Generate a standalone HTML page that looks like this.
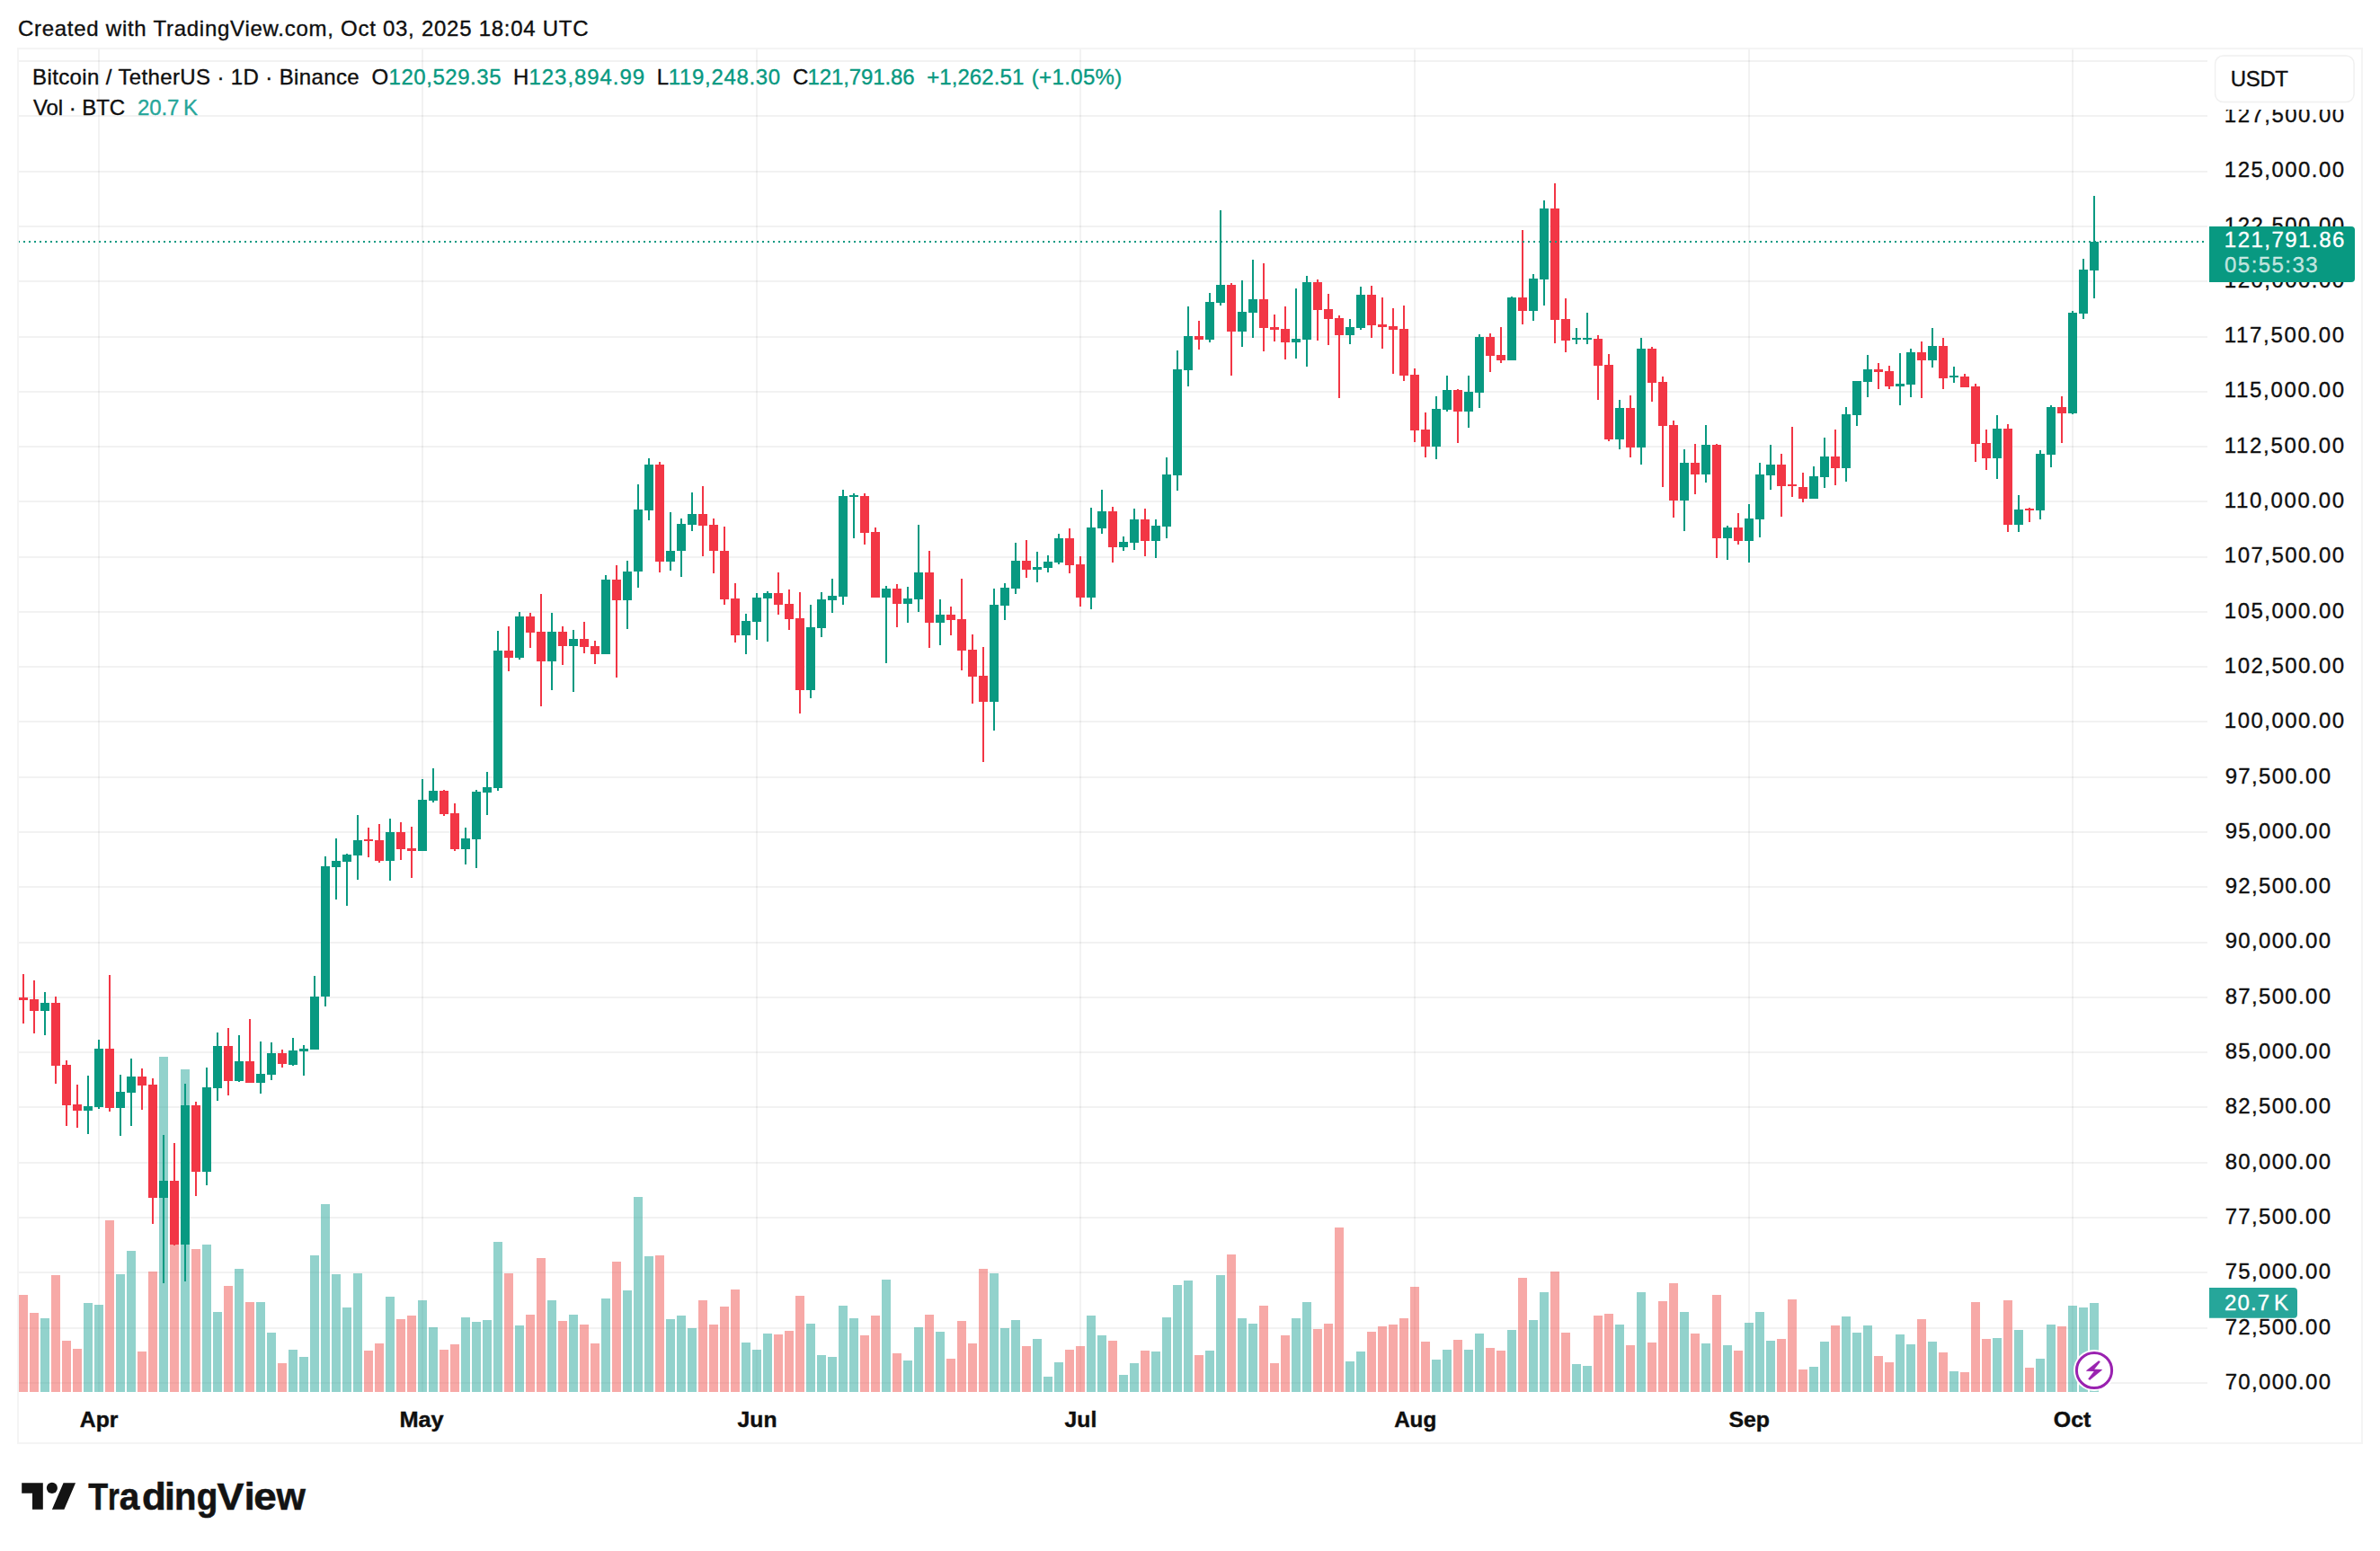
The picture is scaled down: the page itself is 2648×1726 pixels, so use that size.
<!DOCTYPE html>
<html><head><meta charset="utf-8"><title>BTCUSDT chart</title>
<style>html,body{margin:0;padding:0;background:#fff}body{width:2648px;height:1726px;position:relative;overflow:hidden}</style></head>
<body>
<svg width="2648" height="1726" viewBox="0 0 2648 1726" style="position:absolute;left:0;top:0;font-family:'Liberation Sans',sans-serif" shape-rendering="crispEdges">
<rect width="2648" height="1726" fill="#fff"/>
<g fill="rgba(0,0,0,0.052)">
<rect x="20" y="67" width="2436" height="2"/>
<rect x="20" y="128" width="2436" height="2"/>
<rect x="20" y="190" width="2436" height="2"/>
<rect x="20" y="251" width="2436" height="2"/>
<rect x="20" y="312" width="2436" height="2"/>
<rect x="20" y="374" width="2436" height="2"/>
<rect x="20" y="435" width="2436" height="2"/>
<rect x="20" y="496" width="2436" height="2"/>
<rect x="20" y="557" width="2436" height="2"/>
<rect x="20" y="619" width="2436" height="2"/>
<rect x="20" y="680" width="2436" height="2"/>
<rect x="20" y="741" width="2436" height="2"/>
<rect x="20" y="802" width="2436" height="2"/>
<rect x="20" y="864" width="2436" height="2"/>
<rect x="20" y="925" width="2436" height="2"/>
<rect x="20" y="986" width="2436" height="2"/>
<rect x="20" y="1048" width="2436" height="2"/>
<rect x="20" y="1109" width="2436" height="2"/>
<rect x="20" y="1170" width="2436" height="2"/>
<rect x="20" y="1231" width="2436" height="2"/>
<rect x="20" y="1293" width="2436" height="2"/>
<rect x="20" y="1354" width="2436" height="2"/>
<rect x="20" y="1415" width="2436" height="2"/>
<rect x="20" y="1477" width="2436" height="2"/>
<rect x="20" y="1538" width="2436" height="2"/>
<rect x="109" y="54" width="2" height="1495"/>
<rect x="469" y="54" width="2" height="1495"/>
<rect x="841" y="54" width="2" height="1495"/>
<rect x="1201" y="54" width="2" height="1495"/>
<rect x="1573" y="54" width="2" height="1495"/>
<rect x="1945" y="54" width="2" height="1495"/>
<rect x="2305" y="54" width="2" height="1495"/>
</g>
<g>
<rect x="21" y="1441" width="10" height="108" fill="rgba(239,83,80,0.5)"/>
<rect x="33" y="1461" width="10" height="88" fill="rgba(239,83,80,0.5)"/>
<rect x="45" y="1467" width="10" height="82" fill="rgba(38,166,154,0.5)"/>
<rect x="57" y="1419" width="10" height="130" fill="rgba(239,83,80,0.5)"/>
<rect x="69" y="1492" width="10" height="57" fill="rgba(239,83,80,0.5)"/>
<rect x="81" y="1501" width="10" height="48" fill="rgba(239,83,80,0.5)"/>
<rect x="93" y="1450" width="10" height="99" fill="rgba(38,166,154,0.5)"/>
<rect x="105" y="1452" width="10" height="97" fill="rgba(38,166,154,0.5)"/>
<rect x="117" y="1358" width="10" height="191" fill="rgba(239,83,80,0.5)"/>
<rect x="129" y="1418" width="10" height="131" fill="rgba(38,166,154,0.5)"/>
<rect x="141" y="1392" width="10" height="157" fill="rgba(38,166,154,0.5)"/>
<rect x="153" y="1504" width="10" height="45" fill="rgba(239,83,80,0.5)"/>
<rect x="165" y="1415" width="10" height="134" fill="rgba(239,83,80,0.5)"/>
<rect x="177" y="1176" width="10" height="373" fill="rgba(38,166,154,0.5)"/>
<rect x="189" y="1380" width="10" height="169" fill="rgba(239,83,80,0.5)"/>
<rect x="201" y="1190" width="10" height="359" fill="rgba(38,166,154,0.5)"/>
<rect x="213" y="1390" width="10" height="159" fill="rgba(239,83,80,0.5)"/>
<rect x="225" y="1385" width="10" height="164" fill="rgba(38,166,154,0.5)"/>
<rect x="237" y="1460" width="10" height="89" fill="rgba(38,166,154,0.5)"/>
<rect x="249" y="1431" width="10" height="118" fill="rgba(239,83,80,0.5)"/>
<rect x="261" y="1412" width="10" height="137" fill="rgba(38,166,154,0.5)"/>
<rect x="273" y="1449" width="10" height="100" fill="rgba(239,83,80,0.5)"/>
<rect x="285" y="1449" width="10" height="100" fill="rgba(38,166,154,0.5)"/>
<rect x="297" y="1483" width="10" height="66" fill="rgba(38,166,154,0.5)"/>
<rect x="309" y="1517" width="10" height="32" fill="rgba(239,83,80,0.5)"/>
<rect x="321" y="1502" width="10" height="47" fill="rgba(38,166,154,0.5)"/>
<rect x="333" y="1510" width="10" height="39" fill="rgba(38,166,154,0.5)"/>
<rect x="345" y="1397" width="10" height="152" fill="rgba(38,166,154,0.5)"/>
<rect x="357" y="1340" width="10" height="209" fill="rgba(38,166,154,0.5)"/>
<rect x="369" y="1418" width="10" height="131" fill="rgba(38,166,154,0.5)"/>
<rect x="381" y="1455" width="10" height="94" fill="rgba(38,166,154,0.5)"/>
<rect x="393" y="1417" width="10" height="132" fill="rgba(38,166,154,0.5)"/>
<rect x="405" y="1503" width="10" height="46" fill="rgba(239,83,80,0.5)"/>
<rect x="417" y="1495" width="10" height="54" fill="rgba(239,83,80,0.5)"/>
<rect x="429" y="1443" width="10" height="106" fill="rgba(38,166,154,0.5)"/>
<rect x="441" y="1468" width="10" height="81" fill="rgba(239,83,80,0.5)"/>
<rect x="453" y="1464" width="10" height="85" fill="rgba(239,83,80,0.5)"/>
<rect x="465" y="1447" width="10" height="102" fill="rgba(38,166,154,0.5)"/>
<rect x="477" y="1477" width="10" height="72" fill="rgba(38,166,154,0.5)"/>
<rect x="489" y="1502" width="10" height="47" fill="rgba(239,83,80,0.5)"/>
<rect x="501" y="1496" width="10" height="53" fill="rgba(239,83,80,0.5)"/>
<rect x="513" y="1466" width="10" height="83" fill="rgba(38,166,154,0.5)"/>
<rect x="525" y="1471" width="10" height="78" fill="rgba(38,166,154,0.5)"/>
<rect x="537" y="1469" width="10" height="80" fill="rgba(38,166,154,0.5)"/>
<rect x="549" y="1382" width="10" height="167" fill="rgba(38,166,154,0.5)"/>
<rect x="561" y="1417" width="10" height="132" fill="rgba(239,83,80,0.5)"/>
<rect x="573" y="1475" width="10" height="74" fill="rgba(38,166,154,0.5)"/>
<rect x="585" y="1463" width="10" height="86" fill="rgba(239,83,80,0.5)"/>
<rect x="597" y="1400" width="10" height="149" fill="rgba(239,83,80,0.5)"/>
<rect x="609" y="1447" width="10" height="102" fill="rgba(38,166,154,0.5)"/>
<rect x="621" y="1470" width="10" height="79" fill="rgba(239,83,80,0.5)"/>
<rect x="633" y="1463" width="10" height="86" fill="rgba(38,166,154,0.5)"/>
<rect x="645" y="1474" width="10" height="75" fill="rgba(239,83,80,0.5)"/>
<rect x="657" y="1495" width="10" height="54" fill="rgba(239,83,80,0.5)"/>
<rect x="669" y="1445" width="10" height="104" fill="rgba(38,166,154,0.5)"/>
<rect x="681" y="1404" width="10" height="145" fill="rgba(239,83,80,0.5)"/>
<rect x="693" y="1436" width="10" height="113" fill="rgba(38,166,154,0.5)"/>
<rect x="705" y="1332" width="10" height="217" fill="rgba(38,166,154,0.5)"/>
<rect x="717" y="1398" width="10" height="151" fill="rgba(38,166,154,0.5)"/>
<rect x="729" y="1397" width="10" height="152" fill="rgba(239,83,80,0.5)"/>
<rect x="741" y="1468" width="10" height="81" fill="rgba(38,166,154,0.5)"/>
<rect x="753" y="1464" width="10" height="85" fill="rgba(38,166,154,0.5)"/>
<rect x="765" y="1478" width="10" height="71" fill="rgba(38,166,154,0.5)"/>
<rect x="777" y="1447" width="10" height="102" fill="rgba(239,83,80,0.5)"/>
<rect x="789" y="1474" width="10" height="75" fill="rgba(239,83,80,0.5)"/>
<rect x="801" y="1454" width="10" height="95" fill="rgba(239,83,80,0.5)"/>
<rect x="813" y="1435" width="10" height="114" fill="rgba(239,83,80,0.5)"/>
<rect x="825" y="1494" width="10" height="55" fill="rgba(38,166,154,0.5)"/>
<rect x="837" y="1502" width="10" height="47" fill="rgba(38,166,154,0.5)"/>
<rect x="849" y="1484" width="10" height="65" fill="rgba(38,166,154,0.5)"/>
<rect x="861" y="1485" width="10" height="64" fill="rgba(239,83,80,0.5)"/>
<rect x="873" y="1481" width="10" height="68" fill="rgba(239,83,80,0.5)"/>
<rect x="885" y="1442" width="10" height="107" fill="rgba(239,83,80,0.5)"/>
<rect x="897" y="1473" width="10" height="76" fill="rgba(38,166,154,0.5)"/>
<rect x="909" y="1508" width="10" height="41" fill="rgba(38,166,154,0.5)"/>
<rect x="921" y="1510" width="10" height="39" fill="rgba(38,166,154,0.5)"/>
<rect x="933" y="1453" width="10" height="96" fill="rgba(38,166,154,0.5)"/>
<rect x="945" y="1467" width="10" height="82" fill="rgba(38,166,154,0.5)"/>
<rect x="957" y="1486" width="10" height="63" fill="rgba(239,83,80,0.5)"/>
<rect x="969" y="1464" width="10" height="85" fill="rgba(239,83,80,0.5)"/>
<rect x="981" y="1424" width="10" height="125" fill="rgba(38,166,154,0.5)"/>
<rect x="993" y="1506" width="10" height="43" fill="rgba(239,83,80,0.5)"/>
<rect x="1005" y="1514" width="10" height="35" fill="rgba(38,166,154,0.5)"/>
<rect x="1017" y="1477" width="10" height="72" fill="rgba(38,166,154,0.5)"/>
<rect x="1029" y="1463" width="10" height="86" fill="rgba(239,83,80,0.5)"/>
<rect x="1041" y="1482" width="10" height="67" fill="rgba(38,166,154,0.5)"/>
<rect x="1053" y="1512" width="10" height="37" fill="rgba(239,83,80,0.5)"/>
<rect x="1065" y="1470" width="10" height="79" fill="rgba(239,83,80,0.5)"/>
<rect x="1077" y="1495" width="10" height="54" fill="rgba(239,83,80,0.5)"/>
<rect x="1089" y="1412" width="10" height="137" fill="rgba(239,83,80,0.5)"/>
<rect x="1101" y="1417" width="10" height="132" fill="rgba(38,166,154,0.5)"/>
<rect x="1113" y="1478" width="10" height="71" fill="rgba(38,166,154,0.5)"/>
<rect x="1125" y="1469" width="10" height="80" fill="rgba(38,166,154,0.5)"/>
<rect x="1137" y="1498" width="10" height="51" fill="rgba(239,83,80,0.5)"/>
<rect x="1149" y="1490" width="10" height="59" fill="rgba(38,166,154,0.5)"/>
<rect x="1161" y="1532" width="10" height="17" fill="rgba(38,166,154,0.5)"/>
<rect x="1173" y="1516" width="10" height="33" fill="rgba(38,166,154,0.5)"/>
<rect x="1185" y="1502" width="10" height="47" fill="rgba(239,83,80,0.5)"/>
<rect x="1197" y="1498" width="10" height="51" fill="rgba(239,83,80,0.5)"/>
<rect x="1209" y="1464" width="10" height="85" fill="rgba(38,166,154,0.5)"/>
<rect x="1221" y="1486" width="10" height="63" fill="rgba(38,166,154,0.5)"/>
<rect x="1233" y="1492" width="10" height="57" fill="rgba(239,83,80,0.5)"/>
<rect x="1245" y="1530" width="10" height="19" fill="rgba(38,166,154,0.5)"/>
<rect x="1257" y="1517" width="10" height="32" fill="rgba(38,166,154,0.5)"/>
<rect x="1269" y="1503" width="10" height="46" fill="rgba(239,83,80,0.5)"/>
<rect x="1281" y="1504" width="10" height="45" fill="rgba(38,166,154,0.5)"/>
<rect x="1293" y="1466" width="10" height="83" fill="rgba(38,166,154,0.5)"/>
<rect x="1305" y="1430" width="10" height="119" fill="rgba(38,166,154,0.5)"/>
<rect x="1317" y="1425" width="10" height="124" fill="rgba(38,166,154,0.5)"/>
<rect x="1329" y="1508" width="10" height="41" fill="rgba(239,83,80,0.5)"/>
<rect x="1341" y="1503" width="10" height="46" fill="rgba(38,166,154,0.5)"/>
<rect x="1353" y="1419" width="10" height="130" fill="rgba(38,166,154,0.5)"/>
<rect x="1365" y="1396" width="10" height="153" fill="rgba(239,83,80,0.5)"/>
<rect x="1377" y="1467" width="10" height="82" fill="rgba(38,166,154,0.5)"/>
<rect x="1389" y="1473" width="10" height="76" fill="rgba(38,166,154,0.5)"/>
<rect x="1401" y="1453" width="10" height="96" fill="rgba(239,83,80,0.5)"/>
<rect x="1413" y="1517" width="10" height="32" fill="rgba(239,83,80,0.5)"/>
<rect x="1425" y="1486" width="10" height="63" fill="rgba(239,83,80,0.5)"/>
<rect x="1437" y="1467" width="10" height="82" fill="rgba(38,166,154,0.5)"/>
<rect x="1449" y="1449" width="10" height="100" fill="rgba(38,166,154,0.5)"/>
<rect x="1461" y="1479" width="10" height="70" fill="rgba(239,83,80,0.5)"/>
<rect x="1473" y="1473" width="10" height="76" fill="rgba(239,83,80,0.5)"/>
<rect x="1485" y="1366" width="10" height="183" fill="rgba(239,83,80,0.5)"/>
<rect x="1497" y="1515" width="10" height="34" fill="rgba(38,166,154,0.5)"/>
<rect x="1509" y="1504" width="10" height="45" fill="rgba(38,166,154,0.5)"/>
<rect x="1521" y="1482" width="10" height="67" fill="rgba(239,83,80,0.5)"/>
<rect x="1533" y="1476" width="10" height="73" fill="rgba(239,83,80,0.5)"/>
<rect x="1545" y="1474" width="10" height="75" fill="rgba(239,83,80,0.5)"/>
<rect x="1557" y="1467" width="10" height="82" fill="rgba(239,83,80,0.5)"/>
<rect x="1569" y="1432" width="10" height="117" fill="rgba(239,83,80,0.5)"/>
<rect x="1581" y="1493" width="10" height="56" fill="rgba(239,83,80,0.5)"/>
<rect x="1593" y="1513" width="10" height="36" fill="rgba(38,166,154,0.5)"/>
<rect x="1605" y="1502" width="10" height="47" fill="rgba(38,166,154,0.5)"/>
<rect x="1617" y="1491" width="10" height="58" fill="rgba(239,83,80,0.5)"/>
<rect x="1629" y="1502" width="10" height="47" fill="rgba(38,166,154,0.5)"/>
<rect x="1641" y="1484" width="10" height="65" fill="rgba(38,166,154,0.5)"/>
<rect x="1653" y="1500" width="10" height="49" fill="rgba(239,83,80,0.5)"/>
<rect x="1665" y="1503" width="10" height="46" fill="rgba(239,83,80,0.5)"/>
<rect x="1677" y="1480" width="10" height="69" fill="rgba(38,166,154,0.5)"/>
<rect x="1689" y="1422" width="10" height="127" fill="rgba(239,83,80,0.5)"/>
<rect x="1701" y="1469" width="10" height="80" fill="rgba(38,166,154,0.5)"/>
<rect x="1713" y="1438" width="10" height="111" fill="rgba(38,166,154,0.5)"/>
<rect x="1725" y="1415" width="10" height="134" fill="rgba(239,83,80,0.5)"/>
<rect x="1737" y="1483" width="10" height="66" fill="rgba(239,83,80,0.5)"/>
<rect x="1749" y="1518" width="10" height="31" fill="rgba(38,166,154,0.5)"/>
<rect x="1761" y="1520" width="10" height="29" fill="rgba(38,166,154,0.5)"/>
<rect x="1773" y="1464" width="10" height="85" fill="rgba(239,83,80,0.5)"/>
<rect x="1785" y="1462" width="10" height="87" fill="rgba(239,83,80,0.5)"/>
<rect x="1797" y="1474" width="10" height="75" fill="rgba(38,166,154,0.5)"/>
<rect x="1809" y="1497" width="10" height="52" fill="rgba(239,83,80,0.5)"/>
<rect x="1821" y="1438" width="10" height="111" fill="rgba(38,166,154,0.5)"/>
<rect x="1833" y="1494" width="10" height="55" fill="rgba(239,83,80,0.5)"/>
<rect x="1845" y="1448" width="10" height="101" fill="rgba(239,83,80,0.5)"/>
<rect x="1857" y="1428" width="10" height="121" fill="rgba(239,83,80,0.5)"/>
<rect x="1869" y="1460" width="10" height="89" fill="rgba(38,166,154,0.5)"/>
<rect x="1881" y="1484" width="10" height="65" fill="rgba(239,83,80,0.5)"/>
<rect x="1893" y="1495" width="10" height="54" fill="rgba(38,166,154,0.5)"/>
<rect x="1905" y="1441" width="10" height="108" fill="rgba(239,83,80,0.5)"/>
<rect x="1917" y="1497" width="10" height="52" fill="rgba(38,166,154,0.5)"/>
<rect x="1929" y="1503" width="10" height="46" fill="rgba(239,83,80,0.5)"/>
<rect x="1941" y="1472" width="10" height="77" fill="rgba(38,166,154,0.5)"/>
<rect x="1953" y="1460" width="10" height="89" fill="rgba(38,166,154,0.5)"/>
<rect x="1965" y="1492" width="10" height="57" fill="rgba(38,166,154,0.5)"/>
<rect x="1977" y="1490" width="10" height="59" fill="rgba(239,83,80,0.5)"/>
<rect x="1989" y="1446" width="10" height="103" fill="rgba(239,83,80,0.5)"/>
<rect x="2001" y="1524" width="10" height="25" fill="rgba(239,83,80,0.5)"/>
<rect x="2013" y="1521" width="10" height="28" fill="rgba(38,166,154,0.5)"/>
<rect x="2025" y="1493" width="10" height="56" fill="rgba(38,166,154,0.5)"/>
<rect x="2037" y="1475" width="10" height="74" fill="rgba(239,83,80,0.5)"/>
<rect x="2049" y="1465" width="10" height="84" fill="rgba(38,166,154,0.5)"/>
<rect x="2061" y="1483" width="10" height="66" fill="rgba(38,166,154,0.5)"/>
<rect x="2073" y="1475" width="10" height="74" fill="rgba(38,166,154,0.5)"/>
<rect x="2085" y="1509" width="10" height="40" fill="rgba(239,83,80,0.5)"/>
<rect x="2097" y="1516" width="10" height="33" fill="rgba(239,83,80,0.5)"/>
<rect x="2109" y="1485" width="10" height="64" fill="rgba(38,166,154,0.5)"/>
<rect x="2121" y="1496" width="10" height="53" fill="rgba(38,166,154,0.5)"/>
<rect x="2133" y="1468" width="10" height="81" fill="rgba(239,83,80,0.5)"/>
<rect x="2145" y="1493" width="10" height="56" fill="rgba(38,166,154,0.5)"/>
<rect x="2157" y="1505" width="10" height="44" fill="rgba(239,83,80,0.5)"/>
<rect x="2169" y="1526" width="10" height="23" fill="rgba(38,166,154,0.5)"/>
<rect x="2181" y="1527" width="10" height="22" fill="rgba(239,83,80,0.5)"/>
<rect x="2193" y="1449" width="10" height="100" fill="rgba(239,83,80,0.5)"/>
<rect x="2205" y="1490" width="10" height="59" fill="rgba(239,83,80,0.5)"/>
<rect x="2217" y="1489" width="10" height="60" fill="rgba(38,166,154,0.5)"/>
<rect x="2229" y="1447" width="10" height="102" fill="rgba(239,83,80,0.5)"/>
<rect x="2241" y="1480" width="10" height="69" fill="rgba(38,166,154,0.5)"/>
<rect x="2253" y="1522" width="10" height="27" fill="rgba(239,83,80,0.5)"/>
<rect x="2265" y="1512" width="10" height="37" fill="rgba(38,166,154,0.5)"/>
<rect x="2277" y="1474" width="10" height="75" fill="rgba(38,166,154,0.5)"/>
<rect x="2289" y="1476" width="10" height="73" fill="rgba(239,83,80,0.5)"/>
<rect x="2301" y="1453" width="10" height="96" fill="rgba(38,166,154,0.5)"/>
<rect x="2313" y="1455" width="10" height="94" fill="rgba(38,166,154,0.5)"/>
<rect x="2325" y="1450" width="10" height="99" fill="rgba(38,166,154,0.5)"/>
</g>
<g fill="#089981">
<rect x="49" y="1104" width="2" height="48"/>
<rect x="45" y="1116" width="10" height="9"/>
<rect x="97" y="1197" width="2" height="65"/>
<rect x="93" y="1231" width="10" height="5"/>
<rect x="109" y="1157" width="2" height="77"/>
<rect x="105" y="1167" width="10" height="65"/>
<rect x="133" y="1196" width="2" height="68"/>
<rect x="129" y="1215" width="10" height="18"/>
<rect x="145" y="1178" width="2" height="75"/>
<rect x="141" y="1198" width="10" height="18"/>
<rect x="181" y="1263" width="2" height="165"/>
<rect x="177" y="1314" width="10" height="19"/>
<rect x="205" y="1206" width="2" height="220"/>
<rect x="201" y="1230" width="10" height="155"/>
<rect x="229" y="1188" width="2" height="131"/>
<rect x="225" y="1210" width="10" height="94"/>
<rect x="241" y="1149" width="2" height="76"/>
<rect x="237" y="1164" width="10" height="47"/>
<rect x="265" y="1152" width="2" height="52"/>
<rect x="261" y="1181" width="10" height="22"/>
<rect x="289" y="1159" width="2" height="58"/>
<rect x="285" y="1195" width="10" height="10"/>
<rect x="301" y="1160" width="2" height="42"/>
<rect x="297" y="1172" width="10" height="24"/>
<rect x="325" y="1155" width="2" height="31"/>
<rect x="321" y="1169" width="10" height="16"/>
<rect x="337" y="1163" width="2" height="34"/>
<rect x="333" y="1167" width="10" height="3"/>
<rect x="349" y="1086" width="2" height="82"/>
<rect x="345" y="1109" width="10" height="59"/>
<rect x="361" y="953" width="2" height="167"/>
<rect x="357" y="964" width="10" height="145"/>
<rect x="373" y="933" width="2" height="68"/>
<rect x="369" y="958" width="10" height="7"/>
<rect x="385" y="950" width="2" height="58"/>
<rect x="381" y="951" width="10" height="8"/>
<rect x="397" y="907" width="2" height="72"/>
<rect x="393" y="935" width="10" height="17"/>
<rect x="433" y="911" width="2" height="69"/>
<rect x="429" y="926" width="10" height="32"/>
<rect x="469" y="867" width="2" height="80"/>
<rect x="465" y="890" width="10" height="57"/>
<rect x="481" y="855" width="2" height="38"/>
<rect x="477" y="880" width="10" height="11"/>
<rect x="517" y="921" width="2" height="41"/>
<rect x="513" y="933" width="10" height="12"/>
<rect x="529" y="879" width="2" height="87"/>
<rect x="525" y="881" width="10" height="53"/>
<rect x="541" y="859" width="2" height="48"/>
<rect x="537" y="876" width="10" height="6"/>
<rect x="553" y="702" width="2" height="178"/>
<rect x="549" y="724" width="10" height="153"/>
<rect x="577" y="681" width="2" height="53"/>
<rect x="573" y="686" width="10" height="46"/>
<rect x="613" y="682" width="2" height="86"/>
<rect x="609" y="703" width="10" height="33"/>
<rect x="637" y="701" width="2" height="69"/>
<rect x="633" y="711" width="10" height="8"/>
<rect x="673" y="640" width="2" height="88"/>
<rect x="669" y="645" width="10" height="83"/>
<rect x="697" y="624" width="2" height="76"/>
<rect x="693" y="636" width="10" height="32"/>
<rect x="709" y="539" width="2" height="115"/>
<rect x="705" y="567" width="10" height="69"/>
<rect x="721" y="510" width="2" height="69"/>
<rect x="717" y="517" width="10" height="51"/>
<rect x="745" y="570" width="2" height="65"/>
<rect x="741" y="613" width="10" height="12"/>
<rect x="757" y="577" width="2" height="65"/>
<rect x="753" y="583" width="10" height="30"/>
<rect x="769" y="548" width="2" height="43"/>
<rect x="765" y="572" width="10" height="12"/>
<rect x="829" y="683" width="2" height="45"/>
<rect x="825" y="691" width="10" height="16"/>
<rect x="841" y="660" width="2" height="52"/>
<rect x="837" y="665" width="10" height="27"/>
<rect x="853" y="658" width="2" height="56"/>
<rect x="849" y="660" width="10" height="6"/>
<rect x="901" y="673" width="2" height="104"/>
<rect x="897" y="698" width="10" height="70"/>
<rect x="913" y="659" width="2" height="50"/>
<rect x="909" y="667" width="10" height="32"/>
<rect x="925" y="644" width="2" height="38"/>
<rect x="921" y="663" width="10" height="5"/>
<rect x="937" y="545" width="2" height="128"/>
<rect x="933" y="552" width="10" height="112"/>
<rect x="949" y="549" width="2" height="50"/>
<rect x="945" y="551" width="10" height="2"/>
<rect x="985" y="652" width="2" height="86"/>
<rect x="981" y="655" width="10" height="10"/>
<rect x="1009" y="653" width="2" height="40"/>
<rect x="1005" y="666" width="10" height="6"/>
<rect x="1021" y="584" width="2" height="97"/>
<rect x="1017" y="637" width="10" height="30"/>
<rect x="1045" y="667" width="2" height="51"/>
<rect x="1041" y="684" width="10" height="9"/>
<rect x="1105" y="655" width="2" height="158"/>
<rect x="1101" y="673" width="10" height="108"/>
<rect x="1117" y="649" width="2" height="41"/>
<rect x="1113" y="654" width="10" height="20"/>
<rect x="1129" y="604" width="2" height="57"/>
<rect x="1125" y="624" width="10" height="31"/>
<rect x="1153" y="614" width="2" height="34"/>
<rect x="1149" y="631" width="10" height="3"/>
<rect x="1165" y="618" width="2" height="19"/>
<rect x="1161" y="625" width="10" height="7"/>
<rect x="1177" y="594" width="2" height="34"/>
<rect x="1173" y="599" width="10" height="27"/>
<rect x="1213" y="565" width="2" height="113"/>
<rect x="1209" y="587" width="10" height="78"/>
<rect x="1225" y="545" width="2" height="49"/>
<rect x="1221" y="569" width="10" height="19"/>
<rect x="1249" y="597" width="2" height="16"/>
<rect x="1245" y="603" width="10" height="6"/>
<rect x="1261" y="566" width="2" height="46"/>
<rect x="1257" y="578" width="10" height="26"/>
<rect x="1285" y="578" width="2" height="43"/>
<rect x="1281" y="585" width="10" height="17"/>
<rect x="1297" y="509" width="2" height="90"/>
<rect x="1293" y="528" width="10" height="58"/>
<rect x="1309" y="390" width="2" height="156"/>
<rect x="1305" y="411" width="10" height="118"/>
<rect x="1321" y="341" width="2" height="89"/>
<rect x="1317" y="374" width="10" height="38"/>
<rect x="1345" y="326" width="2" height="55"/>
<rect x="1341" y="336" width="10" height="42"/>
<rect x="1357" y="234" width="2" height="106"/>
<rect x="1353" y="317" width="10" height="20"/>
<rect x="1381" y="312" width="2" height="74"/>
<rect x="1377" y="347" width="10" height="22"/>
<rect x="1393" y="289" width="2" height="87"/>
<rect x="1389" y="333" width="10" height="15"/>
<rect x="1441" y="321" width="2" height="78"/>
<rect x="1437" y="377" width="10" height="4"/>
<rect x="1453" y="307" width="2" height="101"/>
<rect x="1449" y="314" width="10" height="64"/>
<rect x="1501" y="355" width="2" height="28"/>
<rect x="1497" y="364" width="10" height="9"/>
<rect x="1513" y="319" width="2" height="48"/>
<rect x="1509" y="328" width="10" height="37"/>
<rect x="1597" y="441" width="2" height="70"/>
<rect x="1593" y="455" width="10" height="42"/>
<rect x="1609" y="418" width="2" height="40"/>
<rect x="1605" y="434" width="10" height="22"/>
<rect x="1633" y="418" width="2" height="58"/>
<rect x="1629" y="436" width="10" height="22"/>
<rect x="1645" y="372" width="2" height="82"/>
<rect x="1641" y="375" width="10" height="62"/>
<rect x="1681" y="330" width="2" height="71"/>
<rect x="1677" y="331" width="10" height="70"/>
<rect x="1705" y="305" width="2" height="52"/>
<rect x="1701" y="310" width="10" height="36"/>
<rect x="1717" y="223" width="2" height="117"/>
<rect x="1713" y="232" width="10" height="79"/>
<rect x="1753" y="365" width="2" height="18"/>
<rect x="1749" y="376" width="10" height="2"/>
<rect x="1765" y="348" width="2" height="35"/>
<rect x="1761" y="376" width="10" height="2"/>
<rect x="1801" y="445" width="2" height="55"/>
<rect x="1797" y="454" width="10" height="35"/>
<rect x="1825" y="376" width="2" height="141"/>
<rect x="1821" y="388" width="10" height="110"/>
<rect x="1873" y="500" width="2" height="91"/>
<rect x="1869" y="515" width="10" height="42"/>
<rect x="1897" y="473" width="2" height="64"/>
<rect x="1893" y="495" width="10" height="33"/>
<rect x="1921" y="585" width="2" height="38"/>
<rect x="1917" y="587" width="10" height="12"/>
<rect x="1945" y="561" width="2" height="65"/>
<rect x="1941" y="577" width="10" height="25"/>
<rect x="1957" y="515" width="2" height="83"/>
<rect x="1953" y="528" width="10" height="50"/>
<rect x="1969" y="495" width="2" height="50"/>
<rect x="1965" y="517" width="10" height="12"/>
<rect x="2017" y="519" width="2" height="36"/>
<rect x="2013" y="530" width="10" height="25"/>
<rect x="2029" y="487" width="2" height="56"/>
<rect x="2025" y="508" width="10" height="23"/>
<rect x="2053" y="453" width="2" height="83"/>
<rect x="2049" y="461" width="10" height="60"/>
<rect x="2065" y="424" width="2" height="50"/>
<rect x="2061" y="424" width="10" height="38"/>
<rect x="2077" y="395" width="2" height="47"/>
<rect x="2073" y="411" width="10" height="14"/>
<rect x="2113" y="393" width="2" height="58"/>
<rect x="2109" y="427" width="10" height="3"/>
<rect x="2125" y="388" width="2" height="54"/>
<rect x="2121" y="392" width="10" height="36"/>
<rect x="2149" y="365" width="2" height="44"/>
<rect x="2145" y="385" width="10" height="16"/>
<rect x="2173" y="408" width="2" height="18"/>
<rect x="2169" y="418" width="10" height="2"/>
<rect x="2221" y="462" width="2" height="71"/>
<rect x="2217" y="477" width="10" height="33"/>
<rect x="2245" y="551" width="2" height="41"/>
<rect x="2241" y="567" width="10" height="17"/>
<rect x="2269" y="501" width="2" height="77"/>
<rect x="2265" y="505" width="10" height="63"/>
<rect x="2281" y="451" width="2" height="69"/>
<rect x="2277" y="453" width="10" height="53"/>
<rect x="2305" y="346" width="2" height="115"/>
<rect x="2301" y="348" width="10" height="112"/>
<rect x="2317" y="288" width="2" height="67"/>
<rect x="2313" y="300" width="10" height="49"/>
<rect x="2329" y="218" width="2" height="114"/>
<rect x="2325" y="269" width="10" height="32"/>
</g>
<g fill="#f23645">
<rect x="25" y="1084" width="2" height="55"/>
<rect x="21" y="1110" width="10" height="3"/>
<rect x="37" y="1091" width="2" height="59"/>
<rect x="33" y="1112" width="10" height="13"/>
<rect x="61" y="1109" width="2" height="97"/>
<rect x="57" y="1116" width="10" height="70"/>
<rect x="73" y="1180" width="2" height="73"/>
<rect x="69" y="1185" width="10" height="45"/>
<rect x="85" y="1207" width="2" height="48"/>
<rect x="81" y="1229" width="10" height="7"/>
<rect x="121" y="1085" width="2" height="152"/>
<rect x="117" y="1167" width="10" height="66"/>
<rect x="157" y="1189" width="2" height="46"/>
<rect x="153" y="1198" width="10" height="10"/>
<rect x="169" y="1200" width="2" height="162"/>
<rect x="165" y="1207" width="10" height="126"/>
<rect x="193" y="1272" width="2" height="114"/>
<rect x="189" y="1314" width="10" height="71"/>
<rect x="217" y="1226" width="2" height="105"/>
<rect x="213" y="1230" width="10" height="74"/>
<rect x="253" y="1144" width="2" height="75"/>
<rect x="249" y="1164" width="10" height="39"/>
<rect x="277" y="1134" width="2" height="71"/>
<rect x="273" y="1181" width="10" height="24"/>
<rect x="313" y="1168" width="2" height="20"/>
<rect x="309" y="1172" width="10" height="12"/>
<rect x="409" y="921" width="2" height="33"/>
<rect x="405" y="934" width="10" height="2"/>
<rect x="421" y="917" width="2" height="43"/>
<rect x="417" y="935" width="10" height="23"/>
<rect x="445" y="915" width="2" height="42"/>
<rect x="441" y="926" width="10" height="19"/>
<rect x="457" y="920" width="2" height="57"/>
<rect x="453" y="944" width="10" height="3"/>
<rect x="493" y="879" width="2" height="29"/>
<rect x="489" y="880" width="10" height="26"/>
<rect x="505" y="894" width="2" height="53"/>
<rect x="501" y="905" width="10" height="40"/>
<rect x="565" y="697" width="2" height="50"/>
<rect x="561" y="724" width="10" height="8"/>
<rect x="589" y="682" width="2" height="39"/>
<rect x="585" y="686" width="10" height="18"/>
<rect x="601" y="661" width="2" height="125"/>
<rect x="597" y="703" width="10" height="33"/>
<rect x="625" y="697" width="2" height="43"/>
<rect x="621" y="703" width="10" height="16"/>
<rect x="649" y="692" width="2" height="35"/>
<rect x="645" y="711" width="10" height="9"/>
<rect x="661" y="713" width="2" height="26"/>
<rect x="657" y="719" width="10" height="9"/>
<rect x="685" y="629" width="2" height="125"/>
<rect x="681" y="645" width="10" height="23"/>
<rect x="733" y="514" width="2" height="123"/>
<rect x="729" y="517" width="10" height="108"/>
<rect x="781" y="541" width="2" height="78"/>
<rect x="777" y="572" width="10" height="13"/>
<rect x="793" y="577" width="2" height="61"/>
<rect x="789" y="584" width="10" height="29"/>
<rect x="805" y="586" width="2" height="87"/>
<rect x="801" y="613" width="10" height="54"/>
<rect x="817" y="649" width="2" height="66"/>
<rect x="813" y="666" width="10" height="41"/>
<rect x="865" y="637" width="2" height="47"/>
<rect x="861" y="660" width="10" height="13"/>
<rect x="877" y="656" width="2" height="45"/>
<rect x="873" y="672" width="10" height="17"/>
<rect x="889" y="659" width="2" height="135"/>
<rect x="885" y="688" width="10" height="80"/>
<rect x="961" y="549" width="2" height="57"/>
<rect x="957" y="552" width="10" height="41"/>
<rect x="973" y="587" width="2" height="78"/>
<rect x="969" y="592" width="10" height="73"/>
<rect x="997" y="650" width="2" height="48"/>
<rect x="993" y="655" width="10" height="17"/>
<rect x="1033" y="613" width="2" height="108"/>
<rect x="1029" y="637" width="10" height="56"/>
<rect x="1057" y="675" width="2" height="32"/>
<rect x="1053" y="684" width="10" height="6"/>
<rect x="1069" y="644" width="2" height="102"/>
<rect x="1065" y="689" width="10" height="35"/>
<rect x="1081" y="706" width="2" height="77"/>
<rect x="1077" y="723" width="10" height="30"/>
<rect x="1093" y="720" width="2" height="128"/>
<rect x="1089" y="752" width="10" height="29"/>
<rect x="1141" y="601" width="2" height="42"/>
<rect x="1137" y="624" width="10" height="10"/>
<rect x="1189" y="588" width="2" height="50"/>
<rect x="1185" y="599" width="10" height="30"/>
<rect x="1201" y="619" width="2" height="56"/>
<rect x="1197" y="628" width="10" height="37"/>
<rect x="1237" y="564" width="2" height="62"/>
<rect x="1233" y="569" width="10" height="40"/>
<rect x="1273" y="566" width="2" height="53"/>
<rect x="1269" y="578" width="10" height="24"/>
<rect x="1333" y="357" width="2" height="32"/>
<rect x="1329" y="374" width="10" height="4"/>
<rect x="1369" y="315" width="2" height="103"/>
<rect x="1365" y="317" width="10" height="52"/>
<rect x="1405" y="293" width="2" height="98"/>
<rect x="1401" y="333" width="10" height="32"/>
<rect x="1417" y="350" width="2" height="30"/>
<rect x="1413" y="364" width="10" height="3"/>
<rect x="1429" y="341" width="2" height="59"/>
<rect x="1425" y="366" width="10" height="15"/>
<rect x="1465" y="311" width="2" height="68"/>
<rect x="1461" y="314" width="10" height="31"/>
<rect x="1477" y="327" width="2" height="57"/>
<rect x="1473" y="344" width="10" height="11"/>
<rect x="1489" y="351" width="2" height="92"/>
<rect x="1485" y="354" width="10" height="19"/>
<rect x="1525" y="318" width="2" height="58"/>
<rect x="1521" y="328" width="10" height="34"/>
<rect x="1537" y="331" width="2" height="57"/>
<rect x="1533" y="361" width="10" height="3"/>
<rect x="1549" y="343" width="2" height="73"/>
<rect x="1545" y="363" width="10" height="4"/>
<rect x="1561" y="340" width="2" height="84"/>
<rect x="1557" y="366" width="10" height="52"/>
<rect x="1573" y="410" width="2" height="82"/>
<rect x="1569" y="417" width="10" height="62"/>
<rect x="1585" y="459" width="2" height="50"/>
<rect x="1581" y="478" width="10" height="19"/>
<rect x="1621" y="433" width="2" height="60"/>
<rect x="1617" y="434" width="10" height="24"/>
<rect x="1657" y="371" width="2" height="43"/>
<rect x="1653" y="375" width="10" height="21"/>
<rect x="1669" y="364" width="2" height="40"/>
<rect x="1665" y="395" width="10" height="6"/>
<rect x="1693" y="256" width="2" height="105"/>
<rect x="1689" y="331" width="10" height="15"/>
<rect x="1729" y="204" width="2" height="178"/>
<rect x="1725" y="232" width="10" height="124"/>
<rect x="1741" y="332" width="2" height="60"/>
<rect x="1737" y="355" width="10" height="24"/>
<rect x="1777" y="373" width="2" height="72"/>
<rect x="1773" y="377" width="10" height="30"/>
<rect x="1789" y="394" width="2" height="97"/>
<rect x="1785" y="406" width="10" height="83"/>
<rect x="1813" y="440" width="2" height="69"/>
<rect x="1809" y="454" width="10" height="44"/>
<rect x="1837" y="386" width="2" height="61"/>
<rect x="1833" y="388" width="10" height="38"/>
<rect x="1849" y="419" width="2" height="123"/>
<rect x="1845" y="425" width="10" height="49"/>
<rect x="1861" y="468" width="2" height="108"/>
<rect x="1857" y="473" width="10" height="84"/>
<rect x="1885" y="494" width="2" height="56"/>
<rect x="1881" y="515" width="10" height="13"/>
<rect x="1909" y="494" width="2" height="127"/>
<rect x="1905" y="495" width="10" height="104"/>
<rect x="1933" y="571" width="2" height="35"/>
<rect x="1929" y="587" width="10" height="15"/>
<rect x="1981" y="505" width="2" height="70"/>
<rect x="1977" y="517" width="10" height="24"/>
<rect x="1993" y="475" width="2" height="78"/>
<rect x="1989" y="539" width="10" height="2"/>
<rect x="2005" y="526" width="2" height="33"/>
<rect x="2001" y="542" width="10" height="13"/>
<rect x="2041" y="478" width="2" height="62"/>
<rect x="2037" y="508" width="10" height="13"/>
<rect x="2089" y="404" width="2" height="29"/>
<rect x="2085" y="411" width="10" height="3"/>
<rect x="2101" y="407" width="2" height="26"/>
<rect x="2097" y="413" width="10" height="17"/>
<rect x="2137" y="380" width="2" height="63"/>
<rect x="2133" y="392" width="10" height="9"/>
<rect x="2161" y="376" width="2" height="57"/>
<rect x="2157" y="385" width="10" height="36"/>
<rect x="2185" y="416" width="2" height="15"/>
<rect x="2181" y="419" width="10" height="12"/>
<rect x="2197" y="427" width="2" height="87"/>
<rect x="2193" y="430" width="10" height="64"/>
<rect x="2209" y="478" width="2" height="45"/>
<rect x="2205" y="493" width="10" height="17"/>
<rect x="2233" y="472" width="2" height="120"/>
<rect x="2229" y="477" width="10" height="107"/>
<rect x="2257" y="565" width="2" height="16"/>
<rect x="2253" y="566" width="10" height="2"/>
<rect x="2293" y="441" width="2" height="52"/>
<rect x="2289" y="453" width="10" height="7"/>
</g>
<line x1="20" y1="269" x2="2456" y2="269" stroke="#089981" stroke-width="2" stroke-dasharray="2 4"/>
<g fill="#f4f4f4"><rect x="19" y="53" width="2610" height="2"/><rect x="19" y="1605" width="2610" height="2"/><rect x="19" y="53" width="2" height="1554"/><rect x="2627" y="53" width="2" height="1554"/></g>
<g font-size="24" fill="#0f0f0f" stroke="#0f0f0f" stroke-width="0.35">
<text x="2474.82" y="135.9" textLength="133.31" lengthAdjust="spacing">127,500.00</text>
<text x="2474.82" y="197.2" textLength="133.31" lengthAdjust="spacing">125,000.00</text>
<text x="2474.82" y="258.5" textLength="133.31" lengthAdjust="spacing">122,500.00</text>
<text x="2474.82" y="319.8" textLength="133.31" lengthAdjust="spacing">120,000.00</text>
<text x="2474.82" y="381.1" textLength="133.31" lengthAdjust="spacing">117,500.00</text>
<text x="2474.82" y="442.4" textLength="133.31" lengthAdjust="spacing">115,000.00</text>
<text x="2474.82" y="503.7" textLength="133.31" lengthAdjust="spacing">112,500.00</text>
<text x="2474.82" y="565.0" textLength="133.31" lengthAdjust="spacing">110,000.00</text>
<text x="2474.82" y="626.3" textLength="133.31" lengthAdjust="spacing">107,500.00</text>
<text x="2474.82" y="687.6" textLength="133.31" lengthAdjust="spacing">105,000.00</text>
<text x="2474.82" y="748.9" textLength="133.31" lengthAdjust="spacing">102,500.00</text>
<text x="2474.82" y="810.2" textLength="133.31" lengthAdjust="spacing">100,000.00</text>
<text x="2475.63" y="871.5" textLength="117.46" lengthAdjust="spacing">97,500.00</text>
<text x="2475.63" y="932.8" textLength="117.46" lengthAdjust="spacing">95,000.00</text>
<text x="2475.63" y="994.1" textLength="117.46" lengthAdjust="spacing">92,500.00</text>
<text x="2475.63" y="1055.4" textLength="117.46" lengthAdjust="spacing">90,000.00</text>
<text x="2475.63" y="1116.7" textLength="117.46" lengthAdjust="spacing">87,500.00</text>
<text x="2475.63" y="1178.0" textLength="117.46" lengthAdjust="spacing">85,000.00</text>
<text x="2475.63" y="1239.3" textLength="117.46" lengthAdjust="spacing">82,500.00</text>
<text x="2475.63" y="1300.6" textLength="117.46" lengthAdjust="spacing">80,000.00</text>
<text x="2475.63" y="1361.9" textLength="117.46" lengthAdjust="spacing">77,500.00</text>
<text x="2475.63" y="1423.2" textLength="117.46" lengthAdjust="spacing">75,000.00</text>
<text x="2475.63" y="1484.5" textLength="117.46" lengthAdjust="spacing">72,500.00</text>
<text x="2475.63" y="1545.8" textLength="117.46" lengthAdjust="spacing">70,000.00</text>
</g>
<rect x="2457" y="55" width="170" height="67" fill="#fff"/>
<rect x="2464.6" y="62" width="154.5" height="51.6" rx="9" ry="9" fill="#fff" stroke="#f0f0f0" stroke-width="1.5" shape-rendering="auto"/>
<text x="2481.85" y="95.7" textLength="64.13" lengthAdjust="spacing" font-size="24" fill="#0f0f0f" stroke="#0f0f0f" stroke-width="0.35">USDT</text>
<path d="M2458 252H2616a4 4 0 0 1 4 4V310a4 4 0 0 1 -4 4H2458Z" fill="#089981" shape-rendering="auto"/>
<text x="2474.82" y="275.4" textLength="133.51" lengthAdjust="spacing" font-size="24" fill="#fff" stroke="#fff" stroke-width="0.35">121,791.86</text>
<text x="2475.08" y="303.4" textLength="103.50" lengthAdjust="spacing" font-size="24" fill="#fff" fill-opacity="0.72" stroke="#fff" stroke-opacity="0.72" stroke-width="0.35">05:55:33</text>
<path d="M2458 1432.9H2552a4 4 0 0 1 4 4V1462.8a4 4 0 0 1 -4 4H2458Z" fill="#26a69a" shape-rendering="auto"/>
<text y="1457.6" font-size="24" fill="#fff" stroke="#fff" stroke-width="0.35"><tspan x="2475.10" textLength="49.94">20.7</tspan><tspan x="2523.41"> K</tspan></text>
<g font-size="24" font-weight="bold" fill="#0f0f0f" stroke="#0f0f0f" stroke-width="0.4">
<text x="88.85" y="1587.8" textLength="42.56" lengthAdjust="spacingAndGlyphs">Apr</text>
<text x="444.40" y="1587.8" textLength="49.30" lengthAdjust="spacingAndGlyphs">May</text>
<text x="820.63" y="1587.8" textLength="43.90" lengthAdjust="spacingAndGlyphs">Jun</text>
<text x="1184.58" y="1587.8" textLength="35.71" lengthAdjust="spacingAndGlyphs">Jul</text>
<text x="1551.15" y="1587.8" textLength="47.06" lengthAdjust="spacingAndGlyphs">Aug</text>
<text x="1923.50" y="1587.8" textLength="45.47" lengthAdjust="spacingAndGlyphs">Sep</text>
<text x="2284.87" y="1587.8" textLength="41.43" lengthAdjust="spacingAndGlyphs">Oct</text>
</g>
<g shape-rendering="auto"><circle cx="2330" cy="1525" r="23" fill="#fff"/><circle cx="2330" cy="1525" r="19.6" fill="#fff" stroke="#9a22b0" stroke-width="3"/><path d="M2335.1 1514.2 L2336.7 1515.5 L2330.1 1523.8 L2338.7 1524.1 L2338.5 1524.8 L2325.1 1535.8 L2323.3 1534.5 L2329.9 1525.95 L2321.3 1525.75 L2321.5 1525.1 Z" fill="#9a22b0" stroke="#9a22b0" stroke-width="0.2" stroke-linejoin="round"/></g>
<g font-size="24" fill="#0f0f0f" stroke="#0f0f0f" stroke-width="0.35">
<text x="19.89" y="40" textLength="634.72" lengthAdjust="spacing">Created with TradingView.com, Oct 03, 2025 18:04 UTC</text>
<text x="36.06" y="93.7" textLength="363.63" lengthAdjust="spacing">Bitcoin / TetherUS · 1D · Binance</text>
<text x="413.50" y="93.7">O</text>
<text x="571.08" y="93.7">H</text>
<text x="730.86" y="93.7">L</text>
<text x="882.03" y="93.7">C</text>
<text x="36.90" y="127.6" textLength="102.27" lengthAdjust="spacing">Vol · BTC</text>
</g>
<g font-size="24" fill="#089981" stroke="#089981" stroke-width="0.35">
<text x="432.52" y="93.7" textLength="124.97" lengthAdjust="spacing">120,529.35</text>
<text x="588.52" y="93.7" textLength="128.55" lengthAdjust="spacing">123,894.99</text>
<text x="743.82" y="93.7" textLength="124.27" lengthAdjust="spacing">119,248.30</text>
<text x="898.46" y="93.7" textLength="119.06" lengthAdjust="spacing">121,791.86</text>
<text x="1031.18" y="93.7" textLength="108.09" lengthAdjust="spacing">+1,262.51</text>
<text x="1147.77" y="93.7" textLength="100.51" lengthAdjust="spacing">(+1.05%)</text>
</g>
<text y="127.6" font-size="24" fill="#26a69a" stroke="#26a69a" stroke-width="0.35"><tspan x="152.92" textLength="46.51">20.7</tspan><tspan x="197.41"> K</tspan></text>
<g fill="#131313" shape-rendering="auto"><path transform="translate(24.2,1643.8) scale(1.686,1.635)" d="M14 22H7V11H0V4h14v18zM28 22h-8l7.5-18h8L28 22z"/><circle cx="57.9" cy="1655.9" r="6.05"/>
<text y="1679.8" font-size="42" font-weight="bold" stroke="#131313" stroke-width="0.6"><tspan x="98.15" textLength="21.90" lengthAdjust="spacingAndGlyphs">T</tspan><tspan x="120.01" textLength="12.75" lengthAdjust="spacingAndGlyphs">r</tspan><tspan x="132.65" textLength="22.53" lengthAdjust="spacingAndGlyphs">a</tspan><tspan x="157.90" textLength="26.81" lengthAdjust="spacingAndGlyphs">d</tspan><tspan x="183.06" textLength="11.85" lengthAdjust="spacingAndGlyphs">i</tspan><tspan x="194.11" textLength="24.47" lengthAdjust="spacingAndGlyphs">n</tspan><tspan x="218.77" textLength="23.57" lengthAdjust="spacingAndGlyphs">g</tspan><tspan x="241.43" textLength="29.96" lengthAdjust="spacingAndGlyphs">V</tspan><tspan x="271.66" textLength="11.85" lengthAdjust="spacingAndGlyphs">i</tspan><tspan x="282.21" textLength="25.45" lengthAdjust="spacingAndGlyphs">e</tspan><tspan x="307.43" textLength="32.36" lengthAdjust="spacingAndGlyphs">w</tspan></text></g>
</svg>
</body></html>
